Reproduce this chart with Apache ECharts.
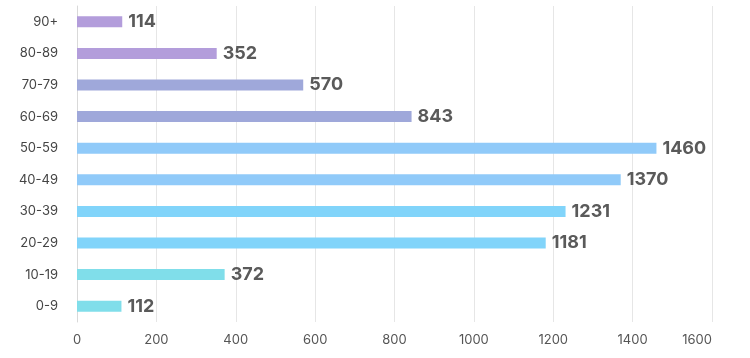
<!DOCTYPE html>
<html><head><meta charset="utf-8">
<script src="https://cdn.jsdelivr.net/npm/echarts@6/dist/echarts.min.js"></script>
<style>html,body{margin:0;padding:0;background:#fff}#c{width:750px;height:358px}</style>
</head><body><div id="c"></div>
<script>
const categories = ['0-9','10-19','20-29','30-39','40-49','50-59','60-69','70-79','80-89','90+'];
const values = [112, 372, 1181, 1231, 1370, 1460, 843, 570, 352, 114];
const barColors = ['#80deea','#80deea','#81d4fa','#81d4fa','#90caf9','#90caf9','#9fa8da','#9fa8da','#b39ddb','#b39ddb'];
const xTicks = [0, 200, 400, 600, 800, 1000, 1200, 1400, 1600];

const chart = echarts.init(document.getElementById('c'));
chart.setOption({
  animation: false,
  textStyle: { fontFamily: 'Inter' },
  grid: { left: 77, right: 38, top: 6, bottom: 36 },
  xAxis: {
    type: 'value', min: xTicks[0], max: xTicks[xTicks.length-1], interval: 200,
    axisLine: { show: false }, axisTick: { show: false },
    splitLine: { lineStyle: { color: '#e6e6e6' } },
    axisLabel: { color: '#555', fontSize: 13, margin: 12, alignMaxLabel: 'right', fontFamily: 'Inter', formatter: v => String(v) }
  },
  yAxis: {
    type: 'category', data: categories,
    axisLine: { show: true, lineStyle: { color: '#d9d9d9' } },
    axisTick: { show: false },
    axisLabel: { color: '#444', fontSize: 13, margin: 19, fontFamily: 'Inter' }
  },
  series: [{
    type: 'bar', barWidth: 11,
    data: values.map((v, i) => ({ value: v, itemStyle: { color: barColors[i] } })),
    label: { show: true, position: 'right', distance: 6, color: '#5a5a5a', fontSize: 18, fontWeight: 'bold', fontFamily: 'Inter' }
  }]
});
</script></body></html>
